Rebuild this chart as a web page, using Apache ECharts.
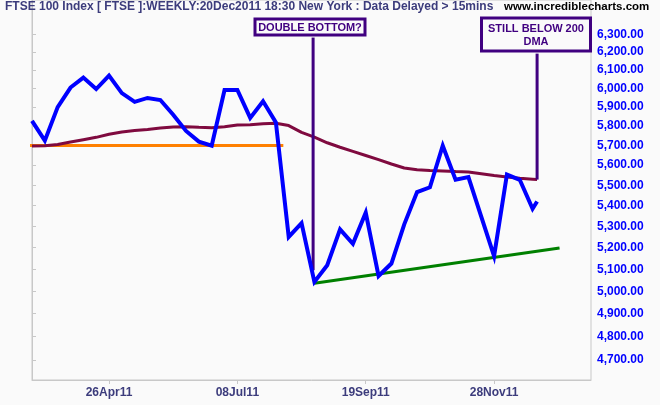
<!DOCTYPE html>
<html><head><meta charset="utf-8">
<script src="https://cdn.jsdelivr.net/npm/echarts@6/dist/echarts.min.js"></script>
<style>html,body{margin:0;padding:0;background:#fafafa}#c{width:660px;height:405px}</style>
</head><body><div id="c"></div>
<script>
// week positions (weekly bars; last point is the partial current week)
const weeks = [0,1,2,3,4,5,6,7,8,9,10,11,12,13,14,15,16,17,18,19,20,21,22,23,24,25,26,27,28,29,30,31,32,33,34,35,36,37,38,39,39.35];
const price = [5828,5725,5900,6005,6059,5997,6070,5975,5928,5949,5938,5860,5775,5720,5699,5992,5992,5843,5931,5820,
               5250,5316,5042,5118,5286,5218,5366,5069,5126,5310,5466,5490,5699,5527,5540,5347,5160,5553,5527,5385,5420];
const dma200 = [5698,5699,5705,5718,5730,5742,5758,5770,5777,5783,5790,5796,5797,5794,5792,5797,5806,5808,5813,5815,
                5803,5768,5743,5714,5691,5670,5649,5628,5606,5586,5577,5573,5571,5568,5566,5557,5548,5541,5535,5530,5528];
const xTickWeeks = [6,16,26,36];
const xTickLabels = ['26Apr11','08Jul11','19Sep11','28Nov11'];
const yTickValues = [4700,4800,4900,5000,5100,5200,5300,5400,5500,5600,5700,5800,5900,6000,6100,6200,6300];
const resistanceLine = [[-2.49,5700],[19.58,5700]];
const supportLine = [[22,5036],[41.1,5198]];
const doubleBottomPointer = [[21.9,6281],[21.9,5095]];
const dmaPointer = [[39.35,6191],[39.35,5528]];
const titleText = 'FTSE 100 Index [ FTSE ]:WEEKLY:20Dec2011 18:30 New York : Data Delayed > 15mins';
const siteText = 'www.incrediblecharts.com';

const pair = (xs, ys) => xs.map((x, i) => [x, ys[i]]);
const fmtNum = v => Math.round(v).toLocaleString('en-US', {minimumFractionDigits: 2, maximumFractionDigits: 2});
const purple = '#400080';
const font = 'Arial, "Liberation Sans", sans-serif';

const chart = echarts.init(document.getElementById('c'), null, {renderer: 'canvas'});
chart.setOption({
  animation: false,
  backgroundColor: '#fafafa',
  title: [
    {text: titleText, left: 5, top: 1, padding: 0,
     textStyle: {fontFamily: font, fontSize: 12, fontWeight: 'bold', color: '#3c3c7c'}},
    {text: siteText, left: 504, top: 1, padding: 0,
     textStyle: {fontFamily: font, fontSize: 11.5, fontWeight: 'bold', color: '#000'}}
  ],
  grid: {left: 32, right: 69, top: -1, bottom: 25, show: true, borderColor: '#c8c8c8', borderWidth: 1, backgroundColor: 'transparent'},
  xAxis: {
    type: 'value', min: 0, max: 43.55,
    axisLine: {show: true, lineStyle: {color: '#c8c8c8'}},
    axisTick: {show: true, length: 4, customValues: xTickWeeks, lineStyle: {color: '#c8c8c8'}},
    axisLabel: {customValues: xTickWeeks, margin: 7,
      formatter: v => { const i = xTickWeeks.indexOf(Math.round(v)); return i >= 0 ? xTickLabels[i] : ''; },
      fontFamily: font, fontSize: 12, fontWeight: 'bold', color: '#3c3c7c'},
    splitLine: {show: false}
  },
  yAxis: {
    type: 'log', position: 'right', min: 4616.3, max: 6496.8, logBase: 10,
    axisLine: {show: true, lineStyle: {color: '#c8c8c8'}},
    axisTick: {show: true, length: 4, customValues: yTickValues, lineStyle: {color: '#c8c8c8'}},
    axisLabel: {customValues: yTickValues, margin: 6, formatter: fmtNum,
      fontFamily: font, fontSize: 12, fontWeight: 'bold', color: '#0000ff'},
    splitLine: {show: false}, minorTick: {show: false}
  },
  series: [
    {type: 'line', data: resistanceLine, symbol: 'none', clip: false, z: 2,
     lineStyle: {color: '#ff8000', width: 3}},
    {type: 'line', data: pair(weeks, dma200), symbol: 'none', z: 3,
     lineStyle: {color: '#7f0a3f', width: 3}},
    {type: 'line', data: supportLine, symbol: 'none', clip: false, z: 3,
     lineStyle: {color: '#008000', width: 3}},
    {type: 'line', data: doubleBottomPointer, symbol: 'none', clip: false, z: 3,
     lineStyle: {color: purple, width: 3}},
    {type: 'line', data: dmaPointer, symbol: 'none', clip: false, z: 5,
     lineStyle: {color: purple, width: 3}},
    {type: 'line', data: pair(weeks, price), symbol: 'none', z: 4,
     lineStyle: {color: '#0000ff', width: 4, join: 'miter'}}
  ],
  graphic: [
    {type: 'rect', z: 100, shape: {x: 255, y: 19, width: 110, height: 16},
     style: {fill: '#fafafa', stroke: purple, lineWidth: 3}},
    {type: 'text', z: 101, x: 310, y: 28,
     style: {text: 'DOUBLE BOTTOM?', fill: purple, font: 'bold 11px ' + font, align: 'center', verticalAlign: 'middle'}},
    {type: 'rect', z: 100, shape: {x: 481.5, y: 18, width: 109, height: 33},
     style: {fill: '#fafafa', stroke: purple, lineWidth: 3}},
    {type: 'text', z: 101, x: 536, y: 28.5,
     style: {text: 'STILL BELOW 200', fill: purple, font: 'bold 11px ' + font, align: 'center', verticalAlign: 'middle'}},
    {type: 'text', z: 101, x: 536, y: 42,
     style: {text: 'DMA', fill: purple, font: 'bold 11px ' + font, align: 'center', verticalAlign: 'middle'}}
  ]
});
</script></body></html>
